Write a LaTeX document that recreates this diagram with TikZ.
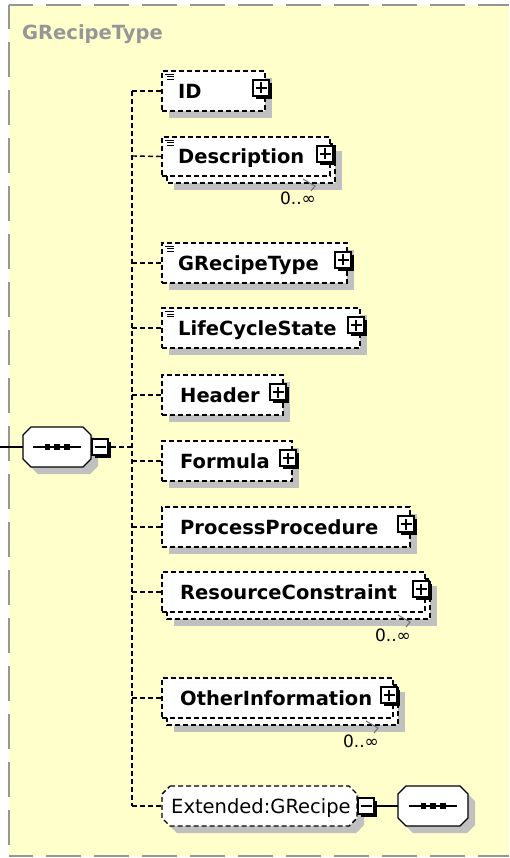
\documentclass[tikz,border=0pt]{standalone}
\usepackage{fontspec}
\setmainfont{DejaVu Sans}
\definecolor{bgy}{RGB}{255,255,204}
\definecolor{bord}{RGB}{150,150,150}
\definecolor{shad}{RGB}{192,192,192}
\definecolor{ttl}{RGB}{150,150,150}
\definecolor{mkc}{RGB}{110,110,110}
\tikzset{
  dsh/.style={dash pattern=on 5pt off 3pt, line width=1.4pt},
  elembox/.style={draw, dsh, fill=white, rectangle, inner sep=0pt, outer sep=0pt},
  etext/.style={font=\fontsize{19.5}{20}\selectfont\bfseries, anchor=base west, inner sep=0pt},
  rtext/.style={font=\fontsize{19.5}{20}\selectfont, anchor=base west, inner sep=0pt},
  pbx/.style={draw, fill=white, line width=1.2pt, minimum size=16pt, inner sep=0pt, outer sep=0pt, rectangle},
  ghost/.style={rectangle, inner sep=0pt, outer sep=0pt},
  mult/.style={font=\fontsize{17}{18}\selectfont, anchor=base, inner sep=0pt},
  mk/.style={mkc, line width=1pt},
  brd/.style={bord, line width=2.5pt, dash pattern=on 35pt off 13pt, dash phase=11pt},
  conn/.style={dsh},
}
\newcommand\shd[4]{\fill[shad] (#1+7,#2+7) rectangle (#3+7,#4+7);}
\newcommand\ebox[5]{\node[elembox, minimum width={#4-#2}, minimum height={#5-#3}] (#1) at ({(#2+#4)/2},{(#3+#5)/2}) {};}
\newcommand\elicon[2]{\draw[line width=1pt] (#1+3,#2+3.5) -- ++(9,0) (#1+5,#2+6) -- ++(7,0) (#1+5,#2+8.5) -- ++(7,0);}
\newcommand\pbox[4]{%
  \fill (#2+3,#3+3) rectangle (#2+19,#3+19);
  \node[pbx] (#1) at (#2+8,#3+8) {};
  \draw[line width=1.3pt] ([xshift=-5.5pt]#1.center) -- ([xshift=5.5pt]#1.center);
  \ifnum#4=1 \draw[line width=1.3pt] ([yshift=-5.5pt]#1.center) -- ([yshift=5.5pt]#1.center);\fi}
\newcommand\multi[5]{%
  \fill[shad] (#2+12,#3+14) rectangle (#4+12,#5+14);
  \draw[dsh, fill=white] (#2+5,#3+7) rectangle (#4+5,#5+7);
  \draw[mk] (#4-27,#5+3) -- (#4-15,#5+10) -- (#4-19,#5+15);
  \node[mult] (#1) at (#4-32,#5+29) {0..∞};}
\newcommand\octo[6]{\path[#1] (#2+#6,#3) -- (#4-#6,#3) -- (#4,#3+#6) -- (#4,#5-#6) -- (#4-#6,#5) -- (#2+#6,#5) -- (#2,#5-#6) -- (#2,#3+#6) -- cycle;}
\newcommand\seqdots[2]{%
  \draw[line width=1.3pt] (#1-24,#2) -- (#1+24,#2);
  \fill (#1-12.5,#2-2.6) rectangle (#1-7.3,#2+2.6);
  \fill (#1-2.6,#2-2.6) rectangle (#1+2.6,#2+2.6);
  \fill (#1+7.3,#2-2.6) rectangle (#1+12.5,#2+2.6);}

\begin{document}
\begin{tikzpicture}[x=1pt,y=-1pt]
\useasboundingbox (0,0) rectangle (509,858);
% background and border
\fill[bgy] (9,5) rectangle (509,856);
\draw[brd] (9,5) -- (509,5);
\draw[brd] (9,5) -- (9,856);
\draw[brd] (9,856) -- (509,856);
\node[font=\fontsize{19.5}{20}\selectfont\bfseries, text=ttl, anchor=base west, inner sep=0pt] (title) at (22,40) {GRecipeType};

% trunk coordinates
\coordinate (in) at (0,447);
\coordinate (tm) at (132,447);
\coordinate (t1) at (132,91);
\coordinate (t10) at (132,806);
\foreach \n/\y in {2/156,3/263,4/328,5/395,6/461,7/527,8/592,9/698} {\coordinate (t\n) at (132,\y);}
\draw[conn] (t1) -- (t10);

% main sequence compositor
\octo{fill=shad}{30}{434}{98}{474}{8}
\octo{draw, fill=white, line width=1.2pt}{23}{427}{91}{467}{8}
\node[ghost, minimum width=68pt, minimum height=40pt] (seq) at (57,447) {};
\seqdots{57}{447}
\draw[line width=1.2pt] (in) -- (seq.west);
\pbox{seqm}{92}{439}{0}
\draw[conn] ([xshift=3pt]seqm.east) -- (tm);

% ID
\shd{162}{71}{265}{111}
\ebox{id}{162}{71}{265}{111}
\elicon{162}{71}
\node[etext] (idt) at (178,98.5) {ID};
\pbox{idp}{253}{80}{1}

% Description
\multi{descm}{162}{137}{330}{176}
\ebox{desc}{162}{137}{330}{176}
\elicon{162}{137}
\node[etext] (desct) at (178,164) {Description};
\pbox{descp}{317}{146}{1}

% GRecipeType
\shd{162}{243}{347}{283}
\ebox{grt}{162}{243}{347}{283}
\elicon{162}{243}
\node[etext] (grtt) at (178,270.5) {GRecipeType};
\pbox{grtp}{335}{252}{1}

% LifeCycleState
\shd{162}{308}{360}{348}
\ebox{lcs}{162}{308}{360}{348}
\elicon{162}{308}
\node[etext] (lcst) at (178,335.5) {LifeCycleState};
\pbox{lcsp}{348}{317}{1}

% Header
\shd{162}{375}{283}{415}
\ebox{hdr}{162}{375}{283}{415}
\node[etext] (hdrt) at (180,402.5) {Header};
\pbox{hdrp}{270}{384}{1}

% Formula
\shd{162}{441}{292}{481}
\ebox{frm}{162}{441}{292}{481}
\node[etext] (frmt) at (180,468.5) {Formula};
\pbox{frmp}{280}{450}{1}

% ProcessProcedure
\shd{162}{507}{410}{547}
\ebox{pp}{162}{507}{410}{547}
\node[etext] (ppt) at (180,534.5) {ProcessProcedure};
\pbox{ppp}{398}{516}{1}

% ResourceConstraint
\multi{rcm}{162}{572}{425}{612}
\ebox{rc}{162}{572}{425}{612}
\node[etext] (rct) at (180,599.5) {ResourceConstraint};
\pbox{rcp}{413}{581}{1}

% OtherInformation
\multi{oim}{162}{678}{393}{718}
\ebox{oi}{162}{678}{393}{718}
\node[etext] (oit) at (180,705.5) {OtherInformation};
\pbox{oip}{381}{687}{1}

% Extended:GRecipe
\octo{fill=shad}{169}{793}{364}{833}{8}
\octo{draw, dsh, fill=white}{162}{786}{357}{826}{8}
\node[ghost, minimum width=195pt, minimum height=40pt] (ext) at (259.5,806) {};
\node[rtext] (extt) at (171,813.5) {Extended:GRecipe};
\pbox{extm}{358}{798}{0}

% second sequence
\octo{fill=shad}{405}{793}{475}{833}{8}
\octo{draw, fill=white, line width=1.2pt}{398}{786}{468}{826}{8}
\node[ghost, minimum width=70pt, minimum height=40pt] (seq2) at (433,806) {};
\seqdots{433}{806}
\draw[line width=1.2pt] ([xshift=3pt]extm.east) -- (seq2.west);

% branches
\draw[conn] (t1) -- (id.west);
\draw[conn] (t2) -- (desc.west);
\draw[conn] (t3) -- (grt.west);
\draw[conn] (t4) -- (lcs.west);
\draw[conn] (t5) -- (hdr.west);
\draw[conn] (t6) -- (frm.west);
\draw[conn] (t7) -- (pp.west);
\draw[conn] (t8) -- (rc.west);
\draw[conn] (t9) -- (oi.west);
\draw[conn] (t10) -- (ext.west);
\end{tikzpicture}
\end{document}
